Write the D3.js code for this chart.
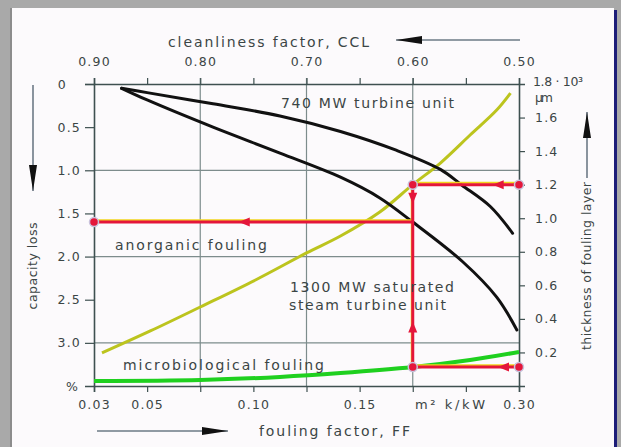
<!DOCTYPE html>
<html>
<head>
<meta charset="utf-8">
<script src="https://cdn.jsdelivr.net/npm/d3@7"></script>
<style>
body { margin: 0; background: #a9a9a9; }
svg { display: block; }
text { font-family: "DejaVu Sans", Verdana, sans-serif; fill: #3b4545; }
</style>
</head>
<body>
<script>
"use strict";

// cleanliness factor CCL (top axis)
var cclTicks = [0.90, 0.85, 0.80, 0.75, 0.70, 0.65, 0.60, 0.55, 0.50];
var cclLabels = [0.90, 0.80, 0.70, 0.60, 0.50];
var cclGrid = [0.80, 0.70, 0.60];

// capacity loss % (left axis)
var lossTicks = [0, 0.5, 1.0, 1.5, 2.0, 2.5, 3.0];
var lossGrid = [1.0, 2.0, 3.0];

// thickness of fouling layer, 10^3 um (right axis)
var thickTicks = [0.2, 0.4, 0.6, 0.8, 1.0, 1.2, 1.4, 1.6];

// fouling factor FF (bottom axis) and the CCL it sits under
var ffValues = [0.03, 0.05, 0.10, 0.15, 0.20, 0.30];
var ffAsCcl = [0.90, 0.85, 0.75, 0.65, 0.60, 0.50];
var ffLabels = [0.03, 0.05, 0.10, 0.15, 0.30];

// 740 MW turbine unit : capacity loss vs CCL
var ccl740 = [0.874, 0.850, 0.788, 0.725, 0.668, 0.615, 0.574, 0.554, 0.527, 0.506];
var loss740 = [0.05, 0.10, 0.23, 0.37, 0.55, 0.77, 0.99, 1.17, 1.42, 1.73];

// 1300 MW saturated steam turbine unit
var ccl1300 = [0.874, 0.850, 0.788, 0.725, 0.668, 0.631, 0.600, 0.553, 0.521, 0.502];
var loss1300 = [0.05, 0.185, 0.50, 0.80, 1.08, 1.32, 1.60, 2.06, 2.47, 2.85];

// anorganic fouling : layer thickness vs CCL
var cclAnorg = [0.8925, 0.847, 0.800, 0.748, 0.700, 0.668, 0.631, 0.600, 0.574, 0.546, 0.521, 0.508];
var thickAnorg = [0.197, 0.328, 0.471, 0.632, 0.793, 0.894, 1.037, 1.20, 1.329, 1.496, 1.645, 1.746];

// microbiological fouling
var cclMicro = [0.90, 0.80, 0.725, 0.668, 0.600, 0.546, 0.50];
var thickMicro = [0.030, 0.036, 0.054, 0.077, 0.113, 0.155, 0.203];

// reading example (red)
var readCcl = 0.60;
var readThick = [1.20, 0.113];
var readLoss = 1.60;

var W = 621, H = 447;
var plot = {left: 94, right: 519, top: 84, bottom: 386};

var svg = d3.select("body").append("svg")
    .attr("width", W)
    .attr("height", H);

// frame of the scan
svg.append("rect").attr("width", W).attr("height", H).attr("fill", "#a9a9a9");
svg.append("rect").attr("x", 12).attr("y", 8).attr("width", 602).attr("height", 439).attr("fill", "#fcfafc");
svg.append("rect").attr("x", 10).attr("y", 8).attr("width", 2).attr("height", 439).attr("fill", "#8c8c8c");
svg.append("rect").attr("x", 614).attr("y", 10).attr("width", 3).attr("height", 437).attr("fill", "#1c1c78");

var x = d3.scaleLinear().domain([0.90, 0.50]).range([plot.left, plot.right]);
var yLoss = d3.scaleLinear().domain([0, 3.5]).range([plot.top, plot.bottom]);
var yThick = d3.scaleLinear().domain([0, 1.8]).range([plot.bottom, plot.top]);
var xFF = d3.scaleLinear().domain(ffValues).range(ffAsCcl.map(x));

var axisColor = "#3e5050";
var gridColor = "#7d8c8c";

// grid
svg.append("g").selectAll("line").data(cclGrid).join("line")
    .attr("x1", d => x(d)).attr("x2", d => x(d))
    .attr("y1", plot.top - 6).attr("y2", plot.bottom)
    .attr("stroke", gridColor).attr("stroke-width", 1.2);
svg.append("g").selectAll("line").data(lossGrid).join("line")
    .attr("x1", plot.left).attr("x2", plot.right)
    .attr("y1", d => yLoss(d)).attr("y2", d => yLoss(d))
    .attr("stroke", gridColor).attr("stroke-width", 1.2);

function styleAxis(g) {
    g.select(".domain").attr("stroke", axisColor).attr("stroke-width", 1.6);
    g.selectAll(".tick line").attr("stroke", axisColor).attr("stroke-width", 1.2);
    g.selectAll(".tick text")
        .attr("fill", "#3b4545")
        .attr("font-size", 12.5)
        .attr("letter-spacing", 1.2)
        .attr("font-family", "DejaVu Sans, Verdana, sans-serif");
}

var fmt2 = d3.format(".2f");

svg.append("g")
    .attr("transform", "translate(0," + plot.top + ")")
    .call(d3.axisTop(x).tickValues(cclTicks).tickSize(6).tickPadding(12)
        .tickFormat(d => cclLabels.some(v => Math.abs(v - d) < 1e-6) ? fmt2(d) : ""))
    .call(styleAxis);

svg.append("g")
    .attr("transform", "translate(" + plot.left + ",0)")
    .call(d3.axisLeft(yLoss).tickValues(lossTicks).tickSize(9).tickPadding(4)
        .tickFormat(d => d === 0 ? "0" : d3.format(".1f")(d)))
    .call(styleAxis)
    .call(g => g.selectAll(".tick text").filter(d => d === 0).attr("dx", -14));

svg.append("g")
    .attr("transform", "translate(" + plot.right + ",0)")
    .call(d3.axisRight(yThick).tickValues(thickTicks).tickSize(6).tickPadding(10)
        .tickFormat(d3.format(".1f")))
    .call(styleAxis);

svg.append("g")
    .attr("transform", "translate(0," + plot.bottom + ")")
    .call(d3.axisBottom(x).tickValues(cclTicks).tickSize(6).tickFormat(""))
    .call(styleAxis);

svg.append("g")
    .attr("transform", "translate(0," + plot.bottom + ")")
    .call(d3.axisBottom(xFF).tickValues(ffLabels).tickSize(0).tickPadding(14).tickFormat(fmt2))
    .call(styleAxis)
    .call(g => g.select(".domain").remove());

// curves
var lineLoss = d3.line()
    .x(d => x(d[0])).y(d => yLoss(d[1]))
    .curve(d3.curveCatmullRom.alpha(0.5));
var lineThick = d3.line()
    .x(d => x(d[0])).y(d => yThick(d[1]))
    .curve(d3.curveCatmullRom.alpha(0.5));

svg.append("path")
    .attr("d", lineThick(d3.zip(cclAnorg, thickAnorg)))
    .attr("fill", "none").attr("stroke", "#bcc41e").attr("stroke-width", 3);
svg.append("path")
    .attr("d", lineThick(d3.zip(cclMicro, thickMicro)))
    .attr("fill", "none").attr("stroke", "#1fd01f").attr("stroke-width", 4);
svg.append("path")
    .attr("d", lineLoss(d3.zip(ccl740, loss740)))
    .attr("fill", "none").attr("stroke", "#111").attr("stroke-width", 3)
    .attr("stroke-linecap", "round");
svg.append("path")
    .attr("d", lineLoss(d3.zip(ccl1300, loss1300)))
    .attr("fill", "none").attr("stroke", "#111").attr("stroke-width", 3)
    .attr("stroke-linecap", "round");

// reading example
var red = "#e4163a";
var segs = [
    [x(0.50), yThick(readThick[0]), x(readCcl), yThick(readThick[0])],
    [x(readCcl), yThick(readThick[0]), x(readCcl), yThick(readThick[1])],
    [x(0.50), yThick(readThick[1]), x(readCcl), yThick(readThick[1])],
    [x(readCcl), yLoss(readLoss), x(0.90), yLoss(readLoss)]
];
var gRead = svg.append("g");
gRead.selectAll("line.fringe").data(segs).join("line")
    .attr("class", "fringe")
    .attr("x1", d => d[0]).attr("y1", d => d[1])
    .attr("x2", d => d[2]).attr("y2", d => d[3])
    .attr("transform", "translate(-1,-1.8)")
    .attr("stroke", "#f2d41c").attr("stroke-width", 2);
gRead.selectAll("line.red").data(segs).join("line")
    .attr("class", "red")
    .attr("x1", d => d[0]).attr("y1", d => d[1])
    .attr("x2", d => d[2]).attr("y2", d => d[3])
    .attr("stroke", red).attr("stroke-width", 3);

var arrows = [
    [x(0.521), yThick(readThick[0]), 180],
    [x(readCcl), yThick(1.11), 90],
    [x(readCcl), yThick(0.36), -90],
    [x(0.516), yThick(readThick[1]), 180],
    [x(0.76), yLoss(readLoss), 180]
];
gRead.selectAll("path.arr").data(arrows).join("path")
    .attr("class", "arr")
    .attr("d", "M4,0 L-7,-4.5 L-7,4.5 Z")
    .attr("transform", d => "translate(" + d[0] + "," + d[1] + ") rotate(" + d[2] + ")")
    .attr("fill", red);

var dots = [
    [x(0.50), yThick(readThick[0])],
    [x(readCcl), yThick(readThick[0])],
    [x(0.50), yThick(readThick[1])],
    [x(readCcl), yThick(readThick[1])],
    [x(0.90), yLoss(readLoss)]
];
gRead.selectAll("circle").data(dots).join("circle")
    .attr("cx", d => d[0]).attr("cy", d => d[1]).attr("r", 4.5)
    .attr("fill", red).attr("stroke", "#c9c2dc").attr("stroke-width", 1.5);

// labels in the plot
function label(str, px, py, len, size) {
    var t = svg.append("text")
        .attr("x", px).attr("y", py)
        .attr("font-size", size || 14)
        .text(str);
    if (len) t.attr("textLength", len).attr("lengthAdjust", "spacing");
    return t;
}

label("740 MW turbine unit", 281, 108, 173);
label("anorganic fouling", 115, 250, 152);
label("1300 MW saturated", 290, 292, 164);
label("steam turbine unit", 289, 310, 157);
label("microbiological fouling", 123, 370, 201);
label("m\u00b2 k/kW", 415, 409, 70, 13);
label("1.8 \u00b7 10\u00b3", 533, 86, 50, 12.5);
label("\u03bcm", 535, 102, 18, 12.5);
label("%", 66, 391, null, 12.5);

// axis titles and arrows
label("cleanliness factor, CCL", 168, 47, 201);
label("fouling factor, FF", 259, 436, 151);

svg.append("text")
    .attr("transform", "translate(37,266) rotate(-90)")
    .attr("text-anchor", "middle")
    .attr("font-size", 12.5)
    .attr("textLength", 87).attr("lengthAdjust", "spacing")
    .text("capacity loss");
svg.append("text")
    .attr("transform", "translate(591,266) rotate(-90)")
    .attr("text-anchor", "middle")
    .attr("font-size", 12.5)
    .attr("textLength", 168).attr("lengthAdjust", "spacing")
    .text("thickness of fouling layer");

function bigArrow(x1, y1, x2, y2) {
    var ang = Math.atan2(y2 - y1, x2 - x1) * 180 / Math.PI;
    svg.append("line")
        .attr("x1", x1).attr("y1", y1).attr("x2", x2).attr("y2", y2)
        .attr("stroke", "#6d7a86").attr("stroke-width", 1.6);
    svg.append("path")
        .attr("d", "M0,0 L-26,-4 L-26,4 Z")
        .attr("transform", "translate(" + x2 + "," + y2 + ") rotate(" + ang + ")")
        .attr("fill", "#111");
}

bigArrow(520, 40, 396, 40);
bigArrow(97, 431, 228, 431);
bigArrow(33, 85, 33, 191);
bigArrow(587, 178, 587, 112);
</script>
</body>
</html>
